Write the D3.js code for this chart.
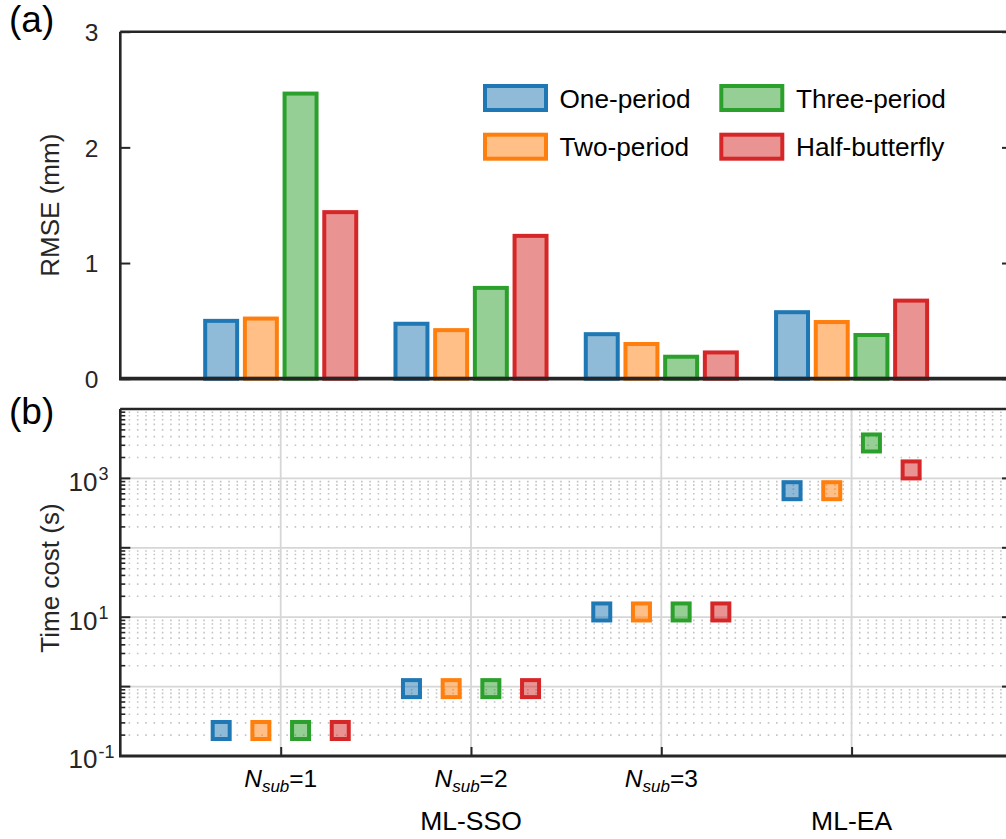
<!DOCTYPE html>
<html>
<head>
<meta charset="utf-8">
<script src="https://cdn.jsdelivr.net/npm/d3@7"></script>
<style>
  html, body { margin: 0; padding: 0; background: #fff; }
  svg { display: block; font-family: "Liberation Sans", Arial, Helvetica, sans-serif; }
</style>
</head>
<body>
<svg id="chart" width="1006" height="839"></svg>
<script>
// ---- data ----
const categories = [1, 2, 3, 4];
const tickSubscripts = ["1", "2", "3", null];          // N_sub value shown under each tick
const methodLabels = [{ at: 2, text: "ML-SSO" }, { at: 4, text: "ML-EA" }];
const seriesNames = ["One-period", "Two-period", "Three-period", "Half-butterfly"];
const seriesColors = ["#1f77b4", "#ff7f0e", "#2ca02c", "#d62728"];

// RMSE (mm) per category
const rmseOnePeriod   = [0.50, 0.475, 0.385, 0.575];
const rmseTwoPeriod   = [0.52, 0.42, 0.30, 0.49];
const rmseThreePeriod = [2.465, 0.785, 0.19, 0.378];
const rmseHalfButterfly = [1.44, 1.235, 0.227, 0.675];

// Time cost (s) per category
const timeOnePeriod   = [0.233, 0.935, 11.9, 665];
const timeTwoPeriod   = [0.233, 0.935, 11.9, 665];
const timeThreePeriod = [0.233, 0.935, 11.9, 3240];
const timeHalfButterfly = [0.233, 0.935, 11.9, 1325];

const rmseTicks = [0, 1, 2, 3];
const timeDecades = [0.1, 1, 10, 100, 1000, 10000];
const timeLabelExponents = [-1, 1, 3];

const rmseSeries = [rmseOnePeriod, rmseTwoPeriod, rmseThreePeriod, rmseHalfButterfly];
const timeSeries = [timeOnePeriod, timeTwoPeriod, timeThreePeriod, timeHalfButterfly];

// ---- layout ----
const svg = d3.select("#chart");
const axisColor = "#262626";
const left = 120.3, right = 1012;
const aTop = 31.7, aBottom = 378.7;
const bTop = 409, bBottom = 756;
const groupStep = 0.2086;   // spacing between series inside a group (x units)
const barWidth = 0.168;     // bar width (x units)

const x = d3.scaleLinear().domain([0.157, 4.843]).range([left, right]);
const yA = d3.scaleLinear().domain([0, 3]).range([aBottom, aTop]);
const yB = d3.scaleLog().domain([0.1, 10000]).range([bBottom, bTop]);
const offset = j => (j - (seriesNames.length - 1) / 2) * groupStep;
const fillOf = c => { const k = d3.color(c); k.opacity = 0.5; return k + ""; };

svg.append("rect").attr("width", 1006).attr("height", 839).attr("fill", "#fff");

// ================= Panel (a): RMSE bars =================
const gA = svg.append("g");
rmseSeries.forEach((vals, j) => {
  gA.selectAll(null).data(vals).enter().append("rect")
    .attr("x", (d, i) => x(categories[i] + offset(j) - barWidth / 2))
    .attr("width", x(barWidth) - x(0))
    .attr("y", d => yA(d))
    .attr("height", d => yA(0) - yA(d))
    .attr("fill", fillOf(seriesColors[j]))
    .attr("stroke", seriesColors[j])
    .attr("stroke-width", 4);
});

// frame and ticks of (a)
gA.append("line").attr("x1", left).attr("x2", right).attr("y1", aTop).attr("y2", aTop)
  .attr("stroke", axisColor).attr("stroke-width", 2.6);
gA.append("line").attr("x1", left).attr("x2", left).attr("y1", aTop).attr("y2", aBottom)
  .attr("stroke", axisColor).attr("stroke-width", 2.6);
gA.append("line").attr("x1", right).attr("x2", right).attr("y1", aTop).attr("y2", aBottom)
  .attr("stroke", axisColor).attr("stroke-width", 2.6);
gA.append("line").attr("x1", left - 1.3).attr("x2", right).attr("y1", aBottom).attr("y2", aBottom)
  .attr("stroke", axisColor).attr("stroke-width", 3.8);

const axisAL = d3.axisLeft(yA).tickValues(rmseTicks).tickSize(-10).tickPadding(22).tickFormat(d3.format("d"));
const axAL = gA.append("g").attr("transform", `translate(${left},0)`).call(axisAL);
axAL.select(".domain").remove();
axAL.selectAll(".tick line").attr("stroke", axisColor).attr("stroke-width", 2);
axAL.selectAll(".tick text").attr("font-size", 24.5).attr("fill", axisColor)
  .attr("font-family", null).attr("dy", "0.36em");
const axisAR = d3.axisRight(yA).tickValues(rmseTicks).tickSize(-10).tickFormat("");
const axAR = gA.append("g").attr("transform", `translate(${right},0)`).call(axisAR);
axAR.select(".domain").remove();
axAR.selectAll(".tick line").attr("stroke", axisColor).attr("stroke-width", 2);

gA.append("text").attr("transform", `translate(58.5,${(aTop + aBottom) / 2}) rotate(-90)`)
  .attr("text-anchor", "middle").attr("font-size", 26).attr("fill", axisColor).text("RMSE (mm)");

// legend
const legendPos = [
  { x: 485, y: 86, tx: 559.5, ty: 107.5 },
  { x: 485, y: 134.7, tx: 559.5, ty: 156.2 },
  { x: 721.3, y: 86, tx: 796, ty: 107.5 },
  { x: 721.3, y: 134.7, tx: 796, ty: 156.2 }
];
const legend = gA.append("g");
seriesNames.forEach((name, j) => {
  const p = legendPos[j];
  legend.append("rect").attr("x", p.x).attr("y", p.y).attr("width", 61).attr("height", 24)
    .attr("fill", fillOf(seriesColors[j])).attr("stroke", seriesColors[j]).attr("stroke-width", 4);
  legend.append("text").attr("x", p.tx).attr("y", p.ty).attr("font-size", 26.2)
    .attr("fill", "#000").text(name);
});

svg.append("text").attr("x", 9).attr("y", 31.5).attr("font-size", 37).attr("fill", "#000").text("(a)");
svg.append("text").attr("x", 9).attr("y", 423.5).attr("font-size", 37).attr("fill", "#000").text("(b)");

// ================= Panel (b): time cost, log scale =================
const gB = svg.append("g");
const minorVals = [];
for (let k = 0; k < timeDecades.length - 1; k++)
  for (let m = 2; m <= 9; m++) minorVals.push(timeDecades[k] * m);

// minor dotted grid
gB.selectAll(null).data(minorVals).enter().append("line")
  .attr("x1", left).attr("x2", right).attr("y1", d => yB(d)).attr("y2", d => yB(d))
  .attr("stroke", "#c4c4c4").attr("stroke-width", 1.6).attr("stroke-dasharray", "1.6,6.7");
// major grid
gB.selectAll(null).data(timeDecades.slice(1, -1)).enter().append("line")
  .attr("x1", left).attr("x2", right).attr("y1", d => yB(d)).attr("y2", d => yB(d))
  .attr("stroke", "#d6d6d6").attr("stroke-width", 1.8);
gB.selectAll(null).data(categories).enter().append("line")
  .attr("x1", d => x(d)).attr("x2", d => x(d)).attr("y1", bTop).attr("y2", bBottom)
  .attr("stroke", "#d6d6d6").attr("stroke-width", 1.8);

// markers
const markerSide = 17;
timeSeries.forEach((vals, j) => {
  gB.selectAll(null).data(vals).enter().append("rect")
    .attr("x", (d, i) => x(categories[i] + offset(j)) - markerSide / 2)
    .attr("y", d => yB(d) - markerSide / 2)
    .attr("width", markerSide).attr("height", markerSide)
    .attr("fill", fillOf(seriesColors[j]))
    .attr("stroke", seriesColors[j]).attr("stroke-width", 4);
});

// frame
[[left, bTop, right, bTop, 2.6], [left, bTop, left, bBottom, 2.6], [right, bTop, right, bBottom, 2.6],
 [left - 1.3, bBottom, right, bBottom, 3]].forEach(s => {
  gB.append("line").attr("x1", s[0]).attr("y1", s[1]).attr("x2", s[2]).attr("y2", s[3])
    .attr("stroke", axisColor).attr("stroke-width", s[4]);
});

// y ticks (major + minor) both sides
const majorTicks = timeDecades;
[[left, 1], [right, -1]].forEach(([x0, dir]) => {
  gB.selectAll(null).data(majorTicks).enter().append("line")
    .attr("x1", x0).attr("x2", x0 + dir * 10).attr("y1", d => yB(d)).attr("y2", d => yB(d))
    .attr("stroke", axisColor).attr("stroke-width", 2);
  gB.selectAll(null).data(minorVals).enter().append("line")
    .attr("x1", x0).attr("x2", x0 + dir * 5).attr("y1", d => yB(d)).attr("y2", d => yB(d))
    .attr("stroke", axisColor).attr("stroke-width", 1.6);
});

// y tick labels 10^n
timeLabelExponents.forEach(e => {
  const yy = yB(Math.pow(10, e));
  gB.append("text").attr("x", 97.5).attr("y", yy + 12.3).attr("text-anchor", "end")
    .attr("font-size", 26).attr("fill", axisColor).text("10");
  gB.append("text").attr("x", 98.5).attr("y", yy + 2).attr("font-size", 18)
    .attr("fill", axisColor).text(e < 0 ? "-" + Math.abs(e) : String(e));
});

gB.append("text").attr("transform", `translate(58.5,578) rotate(-90)`)
  .attr("text-anchor", "middle").attr("font-size", 26).attr("fill", axisColor).text("Time cost (s)");

// x ticks (inward) and labels
const axisB = d3.axisBottom(x).tickValues(categories).tickSize(-9).tickFormat("");
const axB = gB.append("g").attr("transform", `translate(0,${bBottom})`).call(axisB);
axB.select(".domain").remove();
axB.selectAll(".tick line").attr("stroke", axisColor).attr("stroke-width", 2);

categories.forEach((c, i) => {
  if (tickSubscripts[i] === null) return;
  const t = gB.append("text").attr("x", x(c)).attr("y", 786.5).attr("text-anchor", "middle")
    .attr("font-size", 24.5).attr("fill", "#000");
  t.append("tspan").attr("font-style", "italic").text("N");
  t.append("tspan").attr("font-style", "italic").attr("font-size", 17).attr("dy", 5).text("sub");
  t.append("tspan").attr("dy", -5).text("=" + tickSubscripts[i]);
});
methodLabels.forEach(m => {
  gB.append("text").attr("x", x(m.at)).attr("y", 830).attr("text-anchor", "middle")
    .attr("font-size", 26.5).attr("fill", "#000").text(m.text);
});
</script>
</body>
</html>
